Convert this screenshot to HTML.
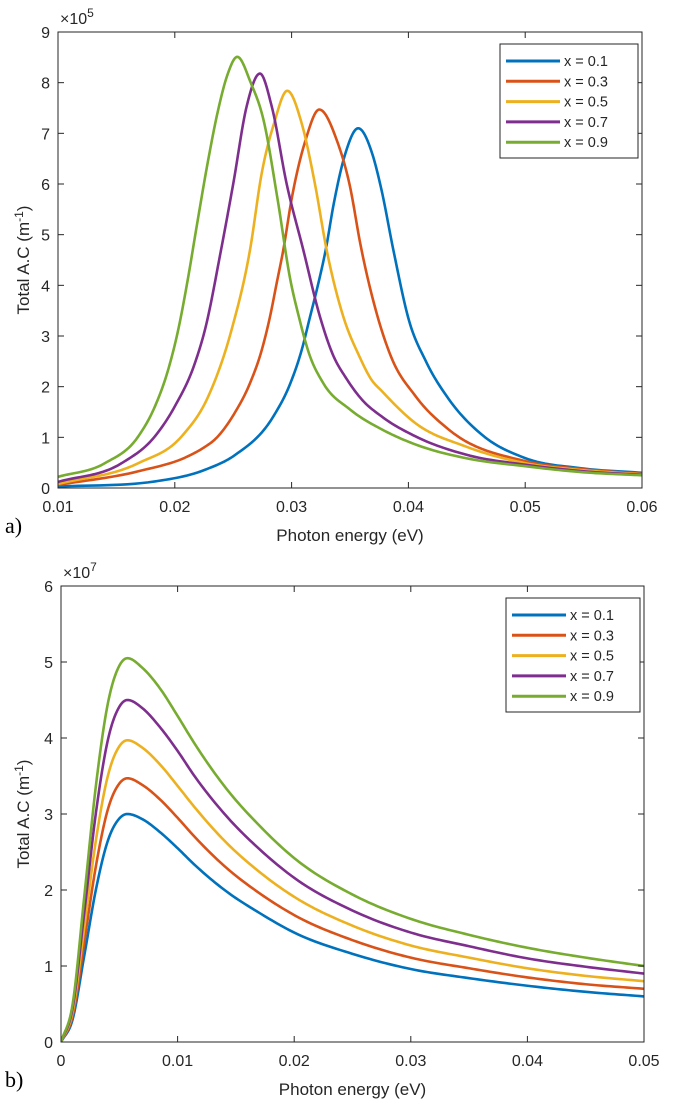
<!DOCTYPE html>
<html><head><meta charset="utf-8"><style>
html,body{margin:0;padding:0;background:#fff;}
svg{display:block;font-family:"Liberation Sans",Arial,sans-serif;}
</style></head><body>
<svg id="fig" width="676" height="1109" viewBox="0 0 676 1109"></svg>
<script>
// ---------- data: chart a ----------
const seriesLabels = ["x = 0.1","x = 0.3","x = 0.5","x = 0.7","x = 0.9"];
const colors = ["#0072BD","#D95319","#EDB120","#7E2F8E","#77AC30"];
const aXTicks = [0.01,0.02,0.03,0.04,0.05,0.06];
const aYTicks = [0,1,2,3,4,5,6,7,8,9];
const aBlueX = [0.01,0.0183,0.02259,0.02515,0.02843,0.0299,0.03086,0.03158,0.03229,0.03292,0.0336,0.0346,0.0357,0.0369,0.0377,0.03871,0.04006,0.0415,0.04347,0.0463,0.05,0.0548,0.06];
const aBlueY = [0.03,0.13,0.36,0.65,1.41,2.07,2.72,3.38,4.04,4.7,5.6,6.6,7.1,6.6,5.88,4.7,3.3,2.5,1.75,1.05,0.59,0.39,0.3];
const aRedX = [0.01,0.01688,0.02116,0.0225,0.02344,0.02515,0.02644,0.02744,0.02815,0.02872,0.02929,0.030,0.0312,0.03237,0.03386,0.035,0.0359,0.03728,0.0385,0.04062,0.04347,0.05,0.055,0.06];
const aRedY = [0.06,0.33,0.63,0.8,0.96,1.49,2.07,2.72,3.38,4.04,4.7,5.7,6.87,7.47,6.87,5.95,4.8,3.45,2.6,1.81,1.15,0.53,0.37,0.28];
const aOrangeX = [0.01,0.01688,0.02059,0.02287,0.02487,0.02644,0.02744,0.0285,0.02963,0.03086,0.032,0.033,0.03443,0.0358,0.0368,0.03778,0.0406,0.0449,0.05,0.055,0.06];
const aOrangeY = [0.08,0.49,1.02,1.81,3.13,4.7,6.21,7.2,7.84,7.2,6.0,4.7,3.38,2.6,2.15,1.9,1.28,0.82,0.49,0.35,0.27];
const aPurpleX = [0.01,0.01545,0.0183,0.02,0.02173,0.02259,0.02396,0.025,0.02615,0.02729,0.0283,0.02958,0.031,0.03243,0.0335,0.03472,0.036,0.03778,0.0406,0.0449,0.05,0.055,0.06];
const aPurpleY = [0.12,0.49,1.02,1.61,2.47,3.13,4.7,6.0,7.53,8.18,7.53,6.0,4.7,3.38,2.65,2.15,1.75,1.40,1.02,0.66,0.46,0.33,0.26];
const aGreenX = [0.01,0.01402,0.01688,0.0183,0.01944,0.0203,0.0211,0.0219,0.0228,0.0237,0.0245,0.02535,0.0265,0.0276,0.0288,0.0299,0.0306,0.0315,0.03271,0.035,0.03778,0.0406,0.0449,0.05,0.055,0.06];
const aGreenY = [0.22,0.49,1.02,1.61,2.34,3.13,4.1,5.2,6.4,7.45,8.15,8.51,8.0,7.26,5.7,4.1,3.4,2.65,2.07,1.55,1.15,0.86,0.59,0.43,0.31,0.25];
// ---------- data: chart b ----------
const bXTicks = [0,0.01,0.02,0.03,0.04,0.05];
const bYTicks = [0,1,2,3,4,5,6];
const bX = [0,0.001,0.002,0.003,0.004,0.005,0.0057,0.007,0.0085,0.01,0.0114,0.0142,0.017,0.02,0.025,0.03,0.035,0.04,0.045,0.05];
const bBlueY = [0,0.3,1.14,2.01,2.64,2.94,3.0,2.93,2.76,2.55,2.34,1.98,1.70,1.44,1.16,0.96,0.84,0.74,0.66,0.6];
const bRedY = [0,0.35,1.32,2.32,3.05,3.4,3.47,3.38,3.19,2.95,2.71,2.29,1.96,1.67,1.34,1.11,0.97,0.85,0.76,0.7];
const bOrangeY = [0,0.4,1.51,2.66,3.49,3.89,3.97,3.87,3.65,3.37,3.10,2.62,2.24,1.91,1.53,1.27,1.11,0.97,0.87,0.8];
const bPurpleY = [0,0.45,1.71,3.02,3.96,4.41,4.5,4.39,4.14,3.83,3.51,2.97,2.54,2.16,1.73,1.44,1.26,1.1,0.99,0.9];
const bGreenY = [0,0.5,1.92,3.38,4.44,4.95,5.05,4.92,4.65,4.29,3.94,3.33,2.85,2.42,1.94,1.62,1.41,1.24,1.11,1.0];

const NS="http://www.w3.org/2000/svg";
const svg=document.getElementById('fig');
function mk(tag,attrs,parent,text){const e=document.createElementNS(NS,tag);for(const k in attrs)e.setAttribute(k,attrs[k]);if(text!==undefined)e.textContent=text;(parent||svg).appendChild(e);return e;}

function monotone(xs,ys,n){
  const m=xs.length,d=[],t=[];
  for(let i=0;i<m-1;i++)d.push((ys[i+1]-ys[i])/(xs[i+1]-xs[i]));
  t[0]=d[0];t[m-1]=d[m-2];
  for(let i=1;i<m-1;i++){
    if(d[i-1]*d[i]<=0){t[i]=0;continue;}
    const h0=xs[i]-xs[i-1],h1=xs[i+1]-xs[i];
    t[i]=(d[i-1]*h1+d[i]*h0)/(h0+h1);
  }
  for(let i=0;i<m-1;i++){if(d[i]===0){t[i]=0;t[i+1]=0;continue;}const a=t[i]/d[i],b=t[i+1]/d[i],s=a*a+b*b;if(s>9){const tau=3/Math.sqrt(s);t[i]=tau*a*d[i];t[i+1]=tau*b*d[i];}}
  const out=[];
  for(let i=0;i<m-1;i++){const h=xs[i+1]-xs[i];for(let k=0;k<n;k++){const u=k/n,h00=2*u*u*u-3*u*u+1,h10=u*u*u-2*u*u+u,h01=-2*u*u*u+3*u*u,h11=u*u*u-u*u;out.push([xs[i]+u*h,h00*ys[i]+h10*h*t[i]+h01*ys[i+1]+h11*h*t[i+1]]);}}
  out.push([xs[m-1],ys[m-1]]);return out;
}

function chart(o){
  const g=mk('g',{});
  const sx=v=>o.L+(v-o.x0)/(o.x1-o.x0)*(o.R-o.L);
  const sy=v=>o.B-(v-o.y0)/(o.y1-o.y0)*(o.B-o.T);
  const clip=mk('clipPath',{id:o.name+'-clip'},g);mk('rect',{x:o.L,y:o.T,width:o.R-o.L,height:o.B-o.T},clip);
  const lg=mk('g',{'clip-path':'url(#'+o.name+'-clip)',},g);
  o.series.forEach((s,i)=>{
    const pts=monotone(s.x,s.y,14);
    const p=mk('path',{d:'M'+pts.map(q=>sx(q[0]).toFixed(2)+','+sy(q[1]).toFixed(2)).join('L'),fill:'none',stroke:colors[i],'stroke-width':2.6,'stroke-linejoin':'round'},lg);
    
    
  });
  mk('rect',{x:o.L,y:o.T,width:o.R-o.L,height:o.B-o.T,fill:'none',stroke:'#262626','stroke-width':1,},g);
  const xt=mk('g',{},g);
  o.xt.forEach(v=>{const x=sx(v);
    mk('line',{x1:x,x2:x,y1:o.B,y2:o.B-6,stroke:'#262626'},xt);mk('line',{x1:x,x2:x,y1:o.T,y2:o.T+6,stroke:'#262626'},xt);
    const t=mk('text',{x:x,y:o.B+24,'font-size':16,'text-anchor':'middle',fill:'#262626'},xt,String(v));
    });
  const yt=mk('g',{},g);
  o.yt.forEach(v=>{const y=sy(v);
    mk('line',{x1:o.L,x2:o.L+6,y1:y,y2:y,stroke:'#262626'},yt);mk('line',{x1:o.R,x2:o.R-6,y1:y,y2:y,stroke:'#262626'},yt);
    const t=mk('text',{x:o.L-8,y:y+6,'font-size':16,'text-anchor':'end',fill:'#262626'},yt,String(v));
    });
  const ex=mk('text',{x:o.L+2,y:o.T-8,'font-size':16,fill:'#262626',},g,'\u00d710');
  mk('tspan',{dy:-7,'font-size':12},ex,o.exp);
  mk('text',{x:(o.L+o.R)/2,y:o.B+53,'font-size':17,'text-anchor':'middle',fill:'#262626',},g,'Photon energy (eV)');
  const yc=(o.T+o.B)/2;
  const ytl=mk('text',{x:0,y:0,transform:'translate(29,'+yc+') rotate(-90)','font-size':17,'text-anchor':'middle',fill:'#262626',},g,'Total A.C (m');
  mk('tspan',{dy:-6,'font-size':12},ytl,'-1');mk('tspan',{dy:6},ytl,')');
  mk('text',{x:5,y:o.B+45,'font-size':22,'font-family':'"Liberation Serif",serif',fill:'#000',},g,o.panel);
  const leg=mk('g',{},g);
  mk('rect',{x:o.lx,y:o.ly,width:o.lw,height:114,fill:'#fff',stroke:'#262626','stroke-width':1},leg);
  seriesLabels.forEach((lab,i)=>{const y=o.ly+17+i*20.3;
    const e=mk('g',{},leg);
    mk('line',{x1:o.lx+6,x2:o.lx+60,y1:y,y2:y,stroke:colors[i],'stroke-width':3},e);
    mk('text',{x:o.lx+64,y:y+5,'font-size':14.5,fill:'#262626'},e,lab);});
}

chart({name:'chart-a',L:58,R:642,T:32,B:488,x0:0.01,x1:0.06,y0:0,y1:9,xt:aXTicks,yt:aYTicks,exp:'5',panel:'a)',lx:500,ly:44,lw:138,
  series:[{x:aBlueX,y:aBlueY},{x:aRedX,y:aRedY},{x:aOrangeX,y:aOrangeY},{x:aPurpleX,y:aPurpleY},{x:aGreenX,y:aGreenY}]});
chart({name:'chart-b',L:61,R:644,T:586,B:1042,x0:0,x1:0.05,y0:0,y1:6,xt:bXTicks,yt:bYTicks,exp:'7',panel:'b)',lx:506,ly:598,lw:134,
  series:[{x:bX,y:bBlueY},{x:bX,y:bRedY},{x:bX,y:bOrangeY},{x:bX,y:bPurpleY},{x:bX,y:bGreenY}]});
</script>
</body></html>
